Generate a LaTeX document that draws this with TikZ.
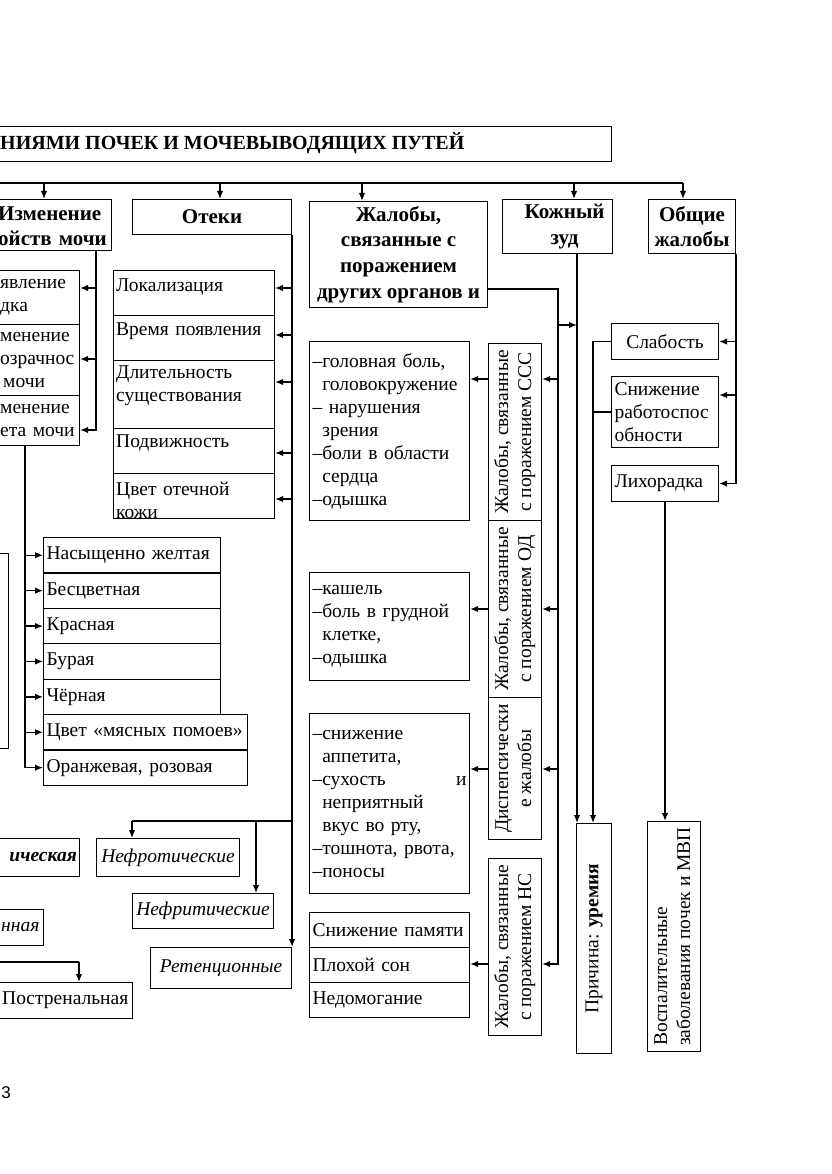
\documentclass[tikz,border=0pt]{standalone}
\usepackage{fontspec}
\setmainfont{Liberation Serif}
\setsansfont{Liberation Sans}
\usetikzlibrary{arrows.meta}

\tikzset{
  box/.style={draw, line width=1.1pt, inner sep=0pt, anchor=north west,
    font=\fontsize{19.5}{23}\selectfont},
  head/.style={box, align=center, font=\bfseries\fontsize{21}{25.7}\selectfont},
  lst/.style={box, align=left, inner xsep=3pt, text width=#1},
  txt/.style={inner sep=0pt, align=left, font=\fontsize{19.5}{23}\selectfont},
  arr/.style={line width=1.4pt, -{Latex[length=8pt,width=6.5pt]}},
  ln/.style={line width=1.4pt},
}
\newcommand{\vtxt}[1]{\rotatebox{90}{\begin{tabular}{@{}c@{}}#1\end{tabular}}}

\begin{document}
\begin{tikzpicture}[x=1pt,y=-1pt]
\useasboundingbox (0,0) rectangle (831,1174);
\clip (0,0) rectangle (831,1174);

% title and top bus
\node[box, minimum width=651, minimum height=35] (title) at (-40,126) {};
\node[txt, anchor=west, font=\bfseries\fontsize{20}{23}\selectfont] (titleT) at (0,143) {НИЯМИ ПОЧЕК И МОЧЕВЫВОДЯЩИХ ПУТЕЙ};

\node[box, minimum width=146, minimum height=51] (izm) at (-35,199) {};
\node[txt, anchor=west, text width=120, font=\bfseries\fontsize{21}{25}\selectfont] (izmT) at (-2,226) {Изменение\\ойств мочи};
\node[head, minimum width=159, minimum height=35] (oteki) at (132,199) {Отеки};
\node[head, minimum width=178, minimum height=106] (zhal) at (309,201) {Жалобы,\\связанные с\\поражением\\других органов и};
\node[head, minimum width=110, minimum height=54] (kozh) at (502,199) {\hspace*{14pt}Кожный\\\hspace*{14pt}зуд};
\node[head, minimum width=87, minimum height=54] (obsh) at (648,199) {Общие\\жалобы};

\coordinate (busL) at (-10,183);
\coordinate (busR) at (683,183);
\draw[ln] (busL) -- (busR);
\foreach \x/\n in {44/izm,220/oteki,362/zhal,574/kozh,683/obsh}
  \draw[arr] (busL -| \x,0) -- (\n.north -| \x,0);

% urine properties
\node[box, minimum width=119, minimum height=54] (iz1) at (-40,270) {};
\node[box, minimum width=119, minimum height=71] (iz2) at (-40,324) {};
\node[box, minimum width=119, minimum height=50] (iz3) at (-40,395) {};
\node[txt, anchor=west, text width=80] (iz1t) at (0,297) {явление\\дка};
\node[txt, anchor=west, text width=80] (iz2t) at (0,360) {менение\\озрачнос\\\hspace*{3pt}мочи};
\node[txt, anchor=west, text width=80] (iz3t) at (0,420) {менение\\ета мочи};

\coordinate (izv) at (96,250);
\draw[arr] (izv) |- (iz3.east |- 0,430);
\draw[arr] (izv |- 0,288) -- (iz1.east |- 0,288);
\draw[arr] (izv |- 0,359) -- (iz2.east |- 0,359);

\node[box, minimum width=48, minimum height=195] (lpart) at (-40,553) {};

\coordinate (cv) at (25,0);
\foreach \t/\w/\tw [count=\i] in {Насыщенно желтая/177/171, Бесцветная/177/171, Красная/177/171, Бурая/177/171, Чёрная/177/171, Цвет «мясных помоев»/204/198, {Оранжевая, розовая}/204/198}
  \node[lst=\tw, minimum width=\w, minimum height=35.4] (c\i) at (43,{537+35.4*(\i-1)}) {\mbox{\t}};
\foreach \i in {1,...,6}
  \draw[arr] (cv |- c\i.west) -- (c\i.west);
\draw[arr] (iz3.south -| cv) |- (c7.west);

% oedema
\foreach \y/\h/\c/\t [count=\i] in {270/45/287/Локализация, 315/45/331/Время появления, 360/68/386/{Длительность\\существования}, 428/45/443/Подвижность, 473/45/500/{Цвет отечной\\кожи}} {
  \node[box, minimum width=161, minimum height=\h] (o\i) at (113,\y) {};
  \node[txt, anchor=west, text width=155] (ot\i) at (116,\c) {\t};
}

\node[box, minimum width=143, minimum height=38, font=\itshape\fontsize{19.5}{23}\selectfont] (nefrot) at (96,838) {Нефротические};
\node[box, minimum width=141, minimum height=35, font=\itshape\fontsize{19.5}{23}\selectfont] (nefrit) at (132,893) {Нефритические};
\node[box, minimum width=141, minimum height=41, font=\itshape\fontsize{19.5}{23}\selectfont] (ret) at (150,947) {Ретенционные\\[6pt]};

\foreach \y [count=\i] in {288,335,382,453,499}
  \draw[arr] (oteki.south east |- 0,\y) -- (o\i.east |- 0,\y);
\draw[arr] (oteki.south east) -- (ret.north east);
\coordinate (hb) at (291,821);
\coordinate (nb) at (132,821);
\coordinate (nf) at (256,821);
\draw[ln] (hb) -- (nb);
\draw[arr] (nb) -- (nb |- nefrot.north);
\draw[arr] (nf) -- (nf |- nefrit.north);

% bottom left
\node[box, minimum width=119, minimum height=38] (ich) at (-40,838) {};
\node[txt, anchor=east, font=\bfseries\itshape\fontsize{19.5}{23}\selectfont] (icht) at (77,857) {ическая};
\node[box, minimum width=83, minimum height=36] (nn) at (-40,909) {};
\node[txt, anchor=west, font=\itshape\fontsize{19.5}{23}\selectfont] (nnt) at (1,927) {нная};
\node[box, minimum width=172, minimum height=36] (post) at (-40,982) {};
\node[txt, anchor=west] (postt) at (2,1000) {Постренальная};
\coordinate (pl) at (-10,962);
\coordinate (pc) at (79,962);
\draw[ln] (pl) -- (pc);
\draw[arr] (pc) -- (pc |- post.north);

% other organs
\node[lst=154, minimum width=160, minimum height=179] (lccc) at (309,341) {–головная боль,\\\phantom{–}головокружение\\– нарушения\\\phantom{–}зрения\\–боли в области\\\phantom{–}сердца\\–одышка};
\node[lst=154, minimum width=160, minimum height=108] (lod) at (309,572) {–кашель\\–боль в грудной\\\phantom{–}клетке,\\–одышка};
\node[lst=154, minimum width=160, minimum height=180] (ldis) at (309,713) {–снижение\\\phantom{–}аппетита,\\–сухость\hfill и\\\phantom{–}неприятный\\\phantom{–}вкус во рту,\\–тошнота, рвота,\\–поносы};
\node[lst=154, minimum width=160, minimum height=35] (ns1) at (309,912) {\mbox{Снижение памяти}};
\node[lst=154, minimum width=160, minimum height=35] (ns2) at (309,947) {\mbox{Плохой сон}};
\node[lst=154, minimum width=160, minimum height=35] (ns3) at (309,982) {\mbox{Недомогание}};

\node[box, minimum width=53, minimum height=177] (vccc) at (488,343) {\vtxt{Жалобы, связанные\\с поражением ССС}};
\node[box, minimum width=53, minimum height=177] (vod) at (488,520) {\vtxt{Жалобы, связанные\\с поражением ОД}};
\node[box, minimum width=53, minimum height=142] (vdis) at (488,697) {\vtxt{Диспепсически\\е жалобы}};
\node[box, minimum width=53, minimum height=177] (vns) at (488,858) {\vtxt{Жалобы, связанные\\с поражением НС}};

\coordinate (zr) at (558,289);
\coordinate (zb) at (558,964);
\draw[arr] (zhal.east |- zr) -- (zr) -- (zb) -- (zb -| vns.east);
\foreach \y/\v/\l in {379/vccc/lccc, 609/vod/lod, 769/vdis/ldis} {
  \draw[arr] (zr |- 0,\y) -- (\v.east |- 0,\y);
  \draw[arr] (\v.west |- 0,\y) -- (\l.east |- 0,\y);
}
\draw[arr] (vns.west |- zb) -- (ns2.east |- zb);

% itch and general complaints
\node[box, minimum width=35, minimum height=230] (prich) at (576,823) {\rotatebox{90}{Причина: \textbf{уремия}}};
\node[box, minimum width=107, minimum height=36] (slab) at (611,323) {Слабость};
\node[lst=101, minimum width=107, minimum height=71] (snizh) at (611,376) {Снижение\\работоспос\\обности};
\node[lst=101, minimum width=107, minimum height=36] (likh) at (611,465) {Лихорадка};
\node[box, minimum width=53, minimum height=230] (vosp) at (647,821) {\rotatebox{90}{\begin{tabular}{@{}l@{}}Воспалительные\\заболевания почек и МВП\end{tabular}}};

\coordinate (kz) at (577,0);
\draw[arr] (zr |- 0,325) -- (kz |- 0,325);
\draw[arr] (kozh.south -| kz) -- (prich.north -| kz);

\draw[arr] (obsh.south east) |- (likh.east);
\draw[arr] (obsh.south east |- slab.east) -- (slab.east);
\draw[arr] (obsh.south east |- 0,395) -- (snizh.east |- 0,395);

\coordinate (sl) at (593,0);
\draw[ln] (snizh.west) -- (snizh.west -| sl);
\draw[arr] (slab.west) -| (sl |- prich.north);
\draw[arr] (likh.south) -- (likh.south |- vosp.north);

\node[inner sep=0pt, font=\sffamily\fontsize{17}{20}\selectfont] (pg) at (6,1093) {3};
\end{tikzpicture}
\end{document}
